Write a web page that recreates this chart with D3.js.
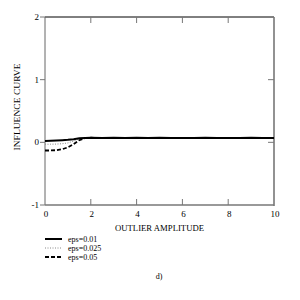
<!DOCTYPE html>
<meta charset="utf-8">
<style>
body { margin: 0; background: #fff; }
text { font-family: "Liberation Serif", "DejaVu Serif", serif; fill: #000; }
</style>
<body>
<svg width="300" height="300"></svg>
</body>
<script src="https://cdn.jsdelivr.net/npm/d3@7"></script>
<script>

var xs     = [0, 0.25, 0.5, 0.75, 1, 1.25, 1.5, 1.75, 2, 2.5, 3, 3.5, 4, 4.5, 5, 5.5, 6, 6.5, 7, 7.5, 8, 8.5, 9, 9.5, 10];
var eps01  = [0.02, 0.025, 0.03, 0.035, 0.04, 0.05, 0.065, 0.07, 0.075, 0.07, 0.072, 0.068, 0.072, 0.07, 0.073, 0.069, 0.071, 0.07, 0.072, 0.068, 0.071, 0.07, 0.072, 0.069, 0.07];
var eps025 = [-0.03, -0.03, -0.028, -0.022, -0.01, 0.02, 0.055, 0.07, 0.074, 0.07, 0.071, 0.069, 0.072, 0.07, 0.072, 0.07, 0.071, 0.069, 0.072, 0.069, 0.07, 0.071, 0.071, 0.07, 0.07];
var eps05  = [-0.13, -0.13, -0.125, -0.11, -0.08, -0.03, 0.035, 0.068, 0.073, 0.07, 0.071, 0.069, 0.071, 0.07, 0.072, 0.07, 0.07, 0.07, 0.071, 0.069, 0.07, 0.071, 0.07, 0.07, 0.07];
var xTicks = [0, 2, 4, 6, 8, 10];
var yTicks = [-1, 0, 1, 2];
var labels = ["eps=0.01", "eps=0.025", "eps=0.05"];

var svg = d3.select("svg");
var pl = 45, pr = 274, pt = 17, pb = 205;

var x = d3.scaleLinear().domain([0, 10]).range([pl, pr]);
var y = d3.scaleLinear().domain([-1, 2]).range([pb, pt]);

// frame
svg.append("line").attr("x1", pl).attr("x2", pr).attr("y1", pt).attr("y2", pt)
    .attr("stroke", "#000").attr("stroke-width", 1);
svg.append("line").attr("x1", pl).attr("x2", pl).attr("y1", pt).attr("y2", pb)
    .attr("stroke", "#666").attr("stroke-width", 1);
svg.append("line").attr("x1", pl).attr("x2", pr).attr("y1", pb).attr("y2", pb)
    .attr("stroke", "#777").attr("stroke-width", 1.3);
svg.append("line").attr("x1", pr).attr("x2", pr).attr("y1", pt).attr("y2", pb + 1)
    .attr("stroke", "#777").attr("stroke-width", 1.6);

// x ticks (inward, top and bottom)
xTicks.forEach(function(t) {
  if (t > 0 && t < 10) {
    svg.append("line").attr("x1", x(t)).attr("x2", x(t)).attr("y1", pb).attr("y2", pb - 6)
        .attr("stroke", "#777");
    svg.append("line").attr("x1", x(t)).attr("x2", x(t)).attr("y1", pt).attr("y2", pt + 6)
        .attr("stroke", "#777");
  }
  svg.append("text").attr("x", x(t) + 1).attr("y", pb + 12)
      .attr("text-anchor", "middle").attr("font-size", 9)
      .text(t);
});

// y ticks (outward left, inward right)
yTicks.forEach(function(t) {
  svg.append("line").attr("x1", pl - 5).attr("x2", pl).attr("y1", y(t)).attr("y2", y(t))
      .attr("stroke", "#777");
  if (t > -1 && t < 2) {
    svg.append("line").attr("x1", pr - 6).attr("x2", pr).attr("y1", y(t)).attr("y2", y(t))
        .attr("stroke", "#777");
  }
  svg.append("text").attr("x", pl - 6).attr("y", y(t) + 3)
      .attr("text-anchor", "end").attr("font-size", 9)
      .text(t);
});

// axis titles
svg.append("text").attr("x", 159.5).attr("y", 231)
    .attr("text-anchor", "middle").attr("font-size", 9)
    .attr("textLength", 89).attr("lengthAdjust", "spacingAndGlyphs")
    .text("OUTLIER AMPLITUDE");
svg.append("text").attr("transform", "translate(19.5,107) rotate(-90)")
    .attr("text-anchor", "middle").attr("font-size", 9)
    .attr("textLength", 87).attr("lengthAdjust", "spacingAndGlyphs")
    .text("INFLUENCE CURVE");

// curves
var series = [
  { v: eps01,  w: 2,   dash: null,  color: "#000" },
  { v: eps025, w: 1,   dash: "1,1.5", color: "#888" },
  { v: eps05,  w: 1.8, dash: "4,2", color: "#000" }
];
var line = d3.line()
    .x(function(d, i) { return x(xs[i]); })
    .y(function(d) { return y(d); });

series.slice().reverse().forEach(function(s) {
  svg.append("path").datum(s.v)
      .attr("d", line)
      .attr("fill", "none")
      .attr("stroke", s.color)
      .attr("stroke-width", s.w)
      .attr("stroke-dasharray", s.dash);
});

// legend
series.forEach(function(s, i) {
  var ly = 239 + i * 9;
  svg.append("line").attr("x1", 45).attr("x2", 62).attr("y1", ly).attr("y2", ly)
      .attr("stroke", s.color).attr("stroke-width", s.w).attr("stroke-dasharray", s.dash);
  svg.append("text").attr("x", 68).attr("y", ly + 3)
      .attr("font-size", 8).text(labels[i]);
});

svg.append("text").attr("x", 159).attr("y", 279)
    .attr("text-anchor", "middle").attr("font-size", 8).text("d)");

</script>
